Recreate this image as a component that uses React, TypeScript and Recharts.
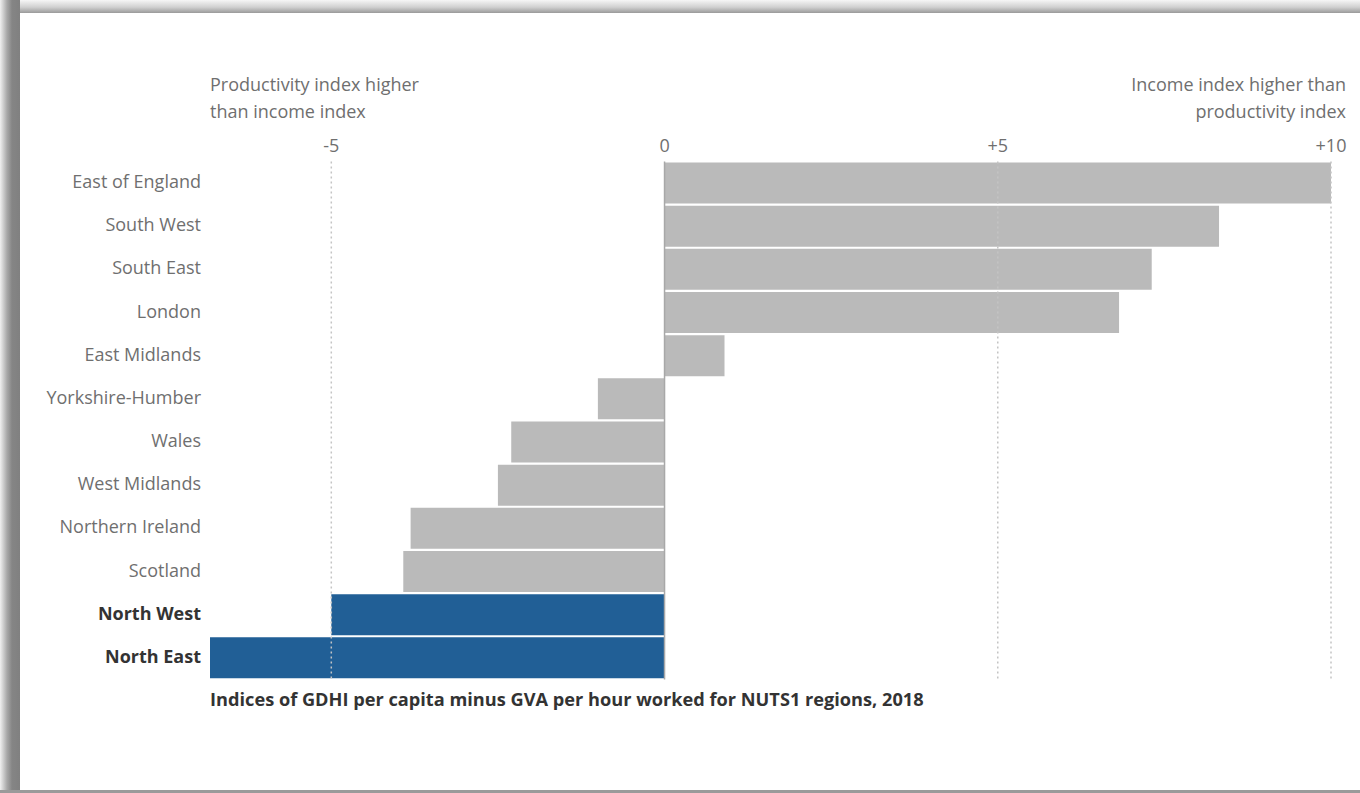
import React from "react";
import { BarChart, Bar, Cell, XAxis, YAxis, ReferenceLine } from "recharts";

const regions = [
  "East of England",
  "South West",
  "South East",
  "London",
  "East Midlands",
  "Yorkshire-Humber",
  "Wales",
  "West Midlands",
  "Northern Ireland",
  "Scotland",
  "North West",
  "North East",
];
const gaps = [10.0, 8.32, 7.31, 6.82, 0.9, -1.0, -2.3, -2.5, -3.81, -3.92, -5.0, -6.82];
const highlighted = ["North West", "North East"];
const xTicks = [-5, 0, 5, 10];

const data = regions.map((name, i) => ({ name, value: gaps[i] }));

const FONT = "'Open Sans', 'Noto Sans', sans-serif";
const GREY = "#bababa";
const BLUE = "#215f96";
const LABEL = "#6f6f6f";

const fmt = (v: number) => (v > 0 ? `+${v}` : `${v}`);

function RegionTick(props: any) {
  const { x, y, payload } = props;
  const bold = highlighted.includes(payload.value);
  return (
    <text
      x={x}
      y={y}
      dy={5}
      textAnchor="end"
      fontFamily={FONT}
      fontSize={18}
      fontWeight={bold ? 700 : 400}
      fill={bold ? "#333" : LABEL}
    >
      {payload.value}
    </text>
  );
}

export default function App() {
  return (
    <div
      style={{
        position: "fixed",
        left: 0,
        top: 0,
        width: 1360,
        height: 793,
        background: "#fff",
        overflow: "hidden",
        fontFamily: FONT,
      }}
    >
      {/* frame shadow */}
      <div
        style={{
          position: "absolute",
          left: 0,
          top: 0,
          width: 1360,
          height: 13,
          background: "linear-gradient(to bottom, #f6f6f6, #d0d0d0 55%, #9a9a9a)",
        }}
      />
      <div
        style={{
          position: "absolute",
          left: 0,
          top: 0,
          width: 20,
          height: 793,
          background: "linear-gradient(to right, #f0f0f0, #a8a8a8 35%, #858585 60%, #808080)",
        }}
      />
      <div
        style={{
          position: "absolute",
          left: 0,
          top: 790,
          width: 1360,
          height: 3,
          background: "#9a9a9a",
        }}
      />
      <div
        style={{
          position: "absolute",
          left: 20,
          top: 13,
          width: 1340,
          height: 777,
          background: "#fff",
        }}
      />
      <div style={{ position: "absolute", left: 0, top: 0 }}>
        <BarChart
          width={1360}
          height={793}
          data={data}
          layout="vertical"
          margin={{ top: 131.5, right: 29, bottom: 113.5, left: 0 }}
          barCategoryGap={1}
        >
          <XAxis
            type="number"
            orientation="top"
            domain={[-6.82, 10]}
            ticks={xTicks}
            tickFormatter={fmt}
            axisLine={false}
            tickLine={false}
            tickSize={0}
            tickMargin={10}
            height={30}
            tick={{ fill: LABEL, fontSize: 18, fontFamily: FONT }}
          />
          <YAxis
            type="category"
            dataKey="name"
            width={210}
            axisLine={false}
            tickLine={false}
            tickSize={0}
            tickMargin={9}
            interval={0}
            tick={<RegionTick />}
          />
          <Bar dataKey="value" isAnimationActive={false}>
            {data.map((d) => (
              <Cell key={d.name} fill={highlighted.includes(d.name) ? BLUE : GREY} />
            ))}
          </Bar>
          {xTicks.map((t) =>
            t === 0 ? (
              <ReferenceLine key={t} x={t} stroke="#a8a8a8" strokeWidth={1.5} />
            ) : (
              <ReferenceLine key={t} x={t} stroke="#c4c4c4" strokeWidth={1.5} strokeDasharray="2 3" />
            )
          )}
        </BarChart>
      </div>
      <div
        style={{
          position: "absolute",
          left: 210,
          top: 71,
          fontSize: 18,
          lineHeight: "27px",
          color: LABEL,
        }}
      >
        Productivity index higher
        <br />
        than income index
      </div>
      <div
        style={{
          position: "absolute",
          right: 14,
          top: 71,
          fontSize: 18,
          lineHeight: "27px",
          color: LABEL,
          textAlign: "right",
        }}
      >
        Income index higher than
        <br />
        productivity index
      </div>
      <div
        style={{
          position: "absolute",
          left: 210,
          top: 686,
          fontSize: 18.2,
          lineHeight: "27px",
          fontWeight: 700,
          color: "#333",
        }}
      >
        Indices of GDHI per capita minus GVA per hour worked for NUTS1 regions, 2018
      </div>
    </div>
  );
}
